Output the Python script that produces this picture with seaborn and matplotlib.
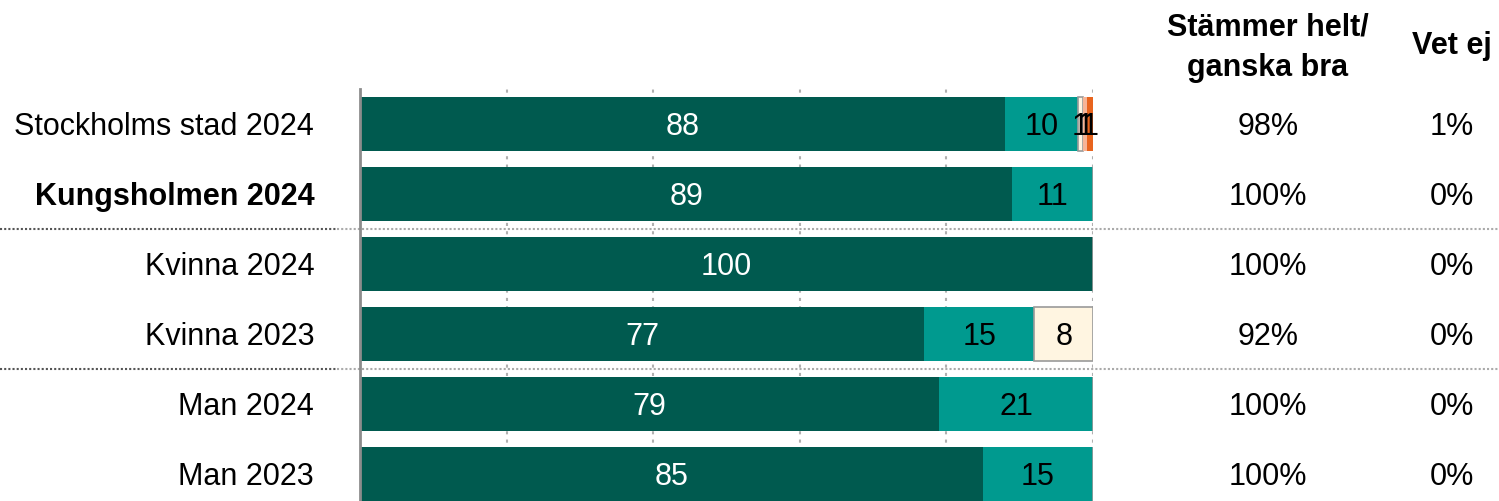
import numpy as np
import pandas as pd
import matplotlib
matplotlib.use("Agg")
import matplotlib.pyplot as plt
import matplotlib.transforms as mtransforms
import seaborn as sns

categories = ["Stockholms stad 2024", "Kungsholmen 2024", "Kvinna 2024",
              "Kvinna 2023", "Man 2024", "Man 2023"]
helt_bra = [88, 89, 100, 77, 79, 85]
ganska_bra = [10, 11, 0, 15, 21, 15]
ganska_daligt = [0.6, 0, 0, 8, 0, 0]
helt_daligt = [0.6, 0, 0, 0, 0, 0]
vet_ej_bar = [0.8, 0, 0, 0, 0, 0]
col_bra = ["98%", "100%", "100%", "92%", "100%", "100%"]
col_vetej = ["1%", "0%", "0%", "0%", "0%", "0%"]
header_bra = "Stämmer helt/\nganska bra"
header_vetej = "Vet ej"

sns.set_style("white")
plt.rcParams["font.family"] = ["Liberation Sans", "DejaVu Sans"]
plt.rcParams["text.color"] = "black"
plt.rcParams["ytick.color"] = "black"
plt.rcParams["ytick.labelcolor"] = "black"

FS = 22
DY = 0.04
W, H = 1499, 501
fig = plt.figure(figsize=(W / 100, H / 100), dpi=100)
ax_left, ax_right, ax_top = 360, 1093, 89
ax = fig.add_axes([ax_left / W, 0, (ax_right - ax_left) / W, (H - ax_top) / H])

segments = [
    (helt_bra, "#005A4F", "white", "none"),
    (ganska_bra, "#009A8F", "black", "none"),
    (ganska_daligt, "#FFF5E1", "black", "#9A9A9A"),
    (helt_daligt, "#F7B496", "black", "none"),
    (vet_ej_bar, "#E8641E", "black", "none"),
]

# vertical grid
for gx in [20, 40, 60, 80, 100]:
    ax.axvline(gx, color="#B0B0B0", lw=1.5, ls=(0, (1.5, 2.5)), zorder=0)

lefts = np.zeros(len(categories))
for vals, color, tcolor, ecolor in segments:
    df = pd.DataFrame({"cat": categories, "val": vals})
    sns.barplot(data=df, x="val", y="cat", orient="h", color=color,
                left=lefts, width=0.77, edgecolor=ecolor,
                linewidth=1.2 if ecolor != "none" else 0,
                saturation=1, ax=ax, zorder=2)
    for i, v in enumerate(vals):
        if v > 0:
            ax.text(lefts[i] + v / 2, i + DY, f"{max(1, round(v))}", ha="center",
                    va="center", color=tcolor, fontsize=FS, zorder=5)
    lefts = lefts + np.array(vals)

ax.set_xlim(0, 100)
ax.set_ylim(5.386, -0.5)
ax.set_xlabel("")
ax.set_ylabel("")
ax.set_xticks([])
ax.tick_params(axis="y", length=0, pad=33, labelsize=FS, labelcolor="black")
for lab in ax.get_yticklabels():
    if lab.get_text() == "Kungsholmen 2024":
        lab.set_fontweight("bold")
for s in ["top", "right", "bottom"]:
    ax.spines[s].set_visible(False)
ax.spines["left"].set_color("#8C8C8C")
ax.spines["left"].set_linewidth(2)
ax.spines["left"].set_zorder(6)

trans = mtransforms.blended_transform_factory(fig.transFigure, ax.transData)
for sy in [1.5, 3.5]:
    ax.plot([0, 0.225], [sy, sy], transform=trans, color="#555555", lw=1.5,
            ls=(0, (1, 1)), clip_on=False, zorder=1)
    ax.plot([0.225, 1], [sy, sy], transform=trans, color="#AAAAAA", lw=1.5,
            ls=(0, (1, 1)), clip_on=False, zorder=1)

for i in range(len(categories)):
    ax.text(1268 / W, i + DY, col_bra[i], transform=trans, ha="center", va="center",
            fontsize=FS, clip_on=False)
    ax.text(1452 / W, i + DY, col_vetej[i], transform=trans, ha="center", va="center",
            fontsize=FS, clip_on=False)

fig.text(1268 / W, 1 - 48 / H, header_bra, ha="center", va="center",
         fontsize=FS, fontweight="bold", linespacing=1.45)
fig.text(1452 / W, 1 - 46 / H, header_vetej, ha="center", va="center",
         fontsize=FS, fontweight="bold")

fig.savefig("out.png", dpi=100)
